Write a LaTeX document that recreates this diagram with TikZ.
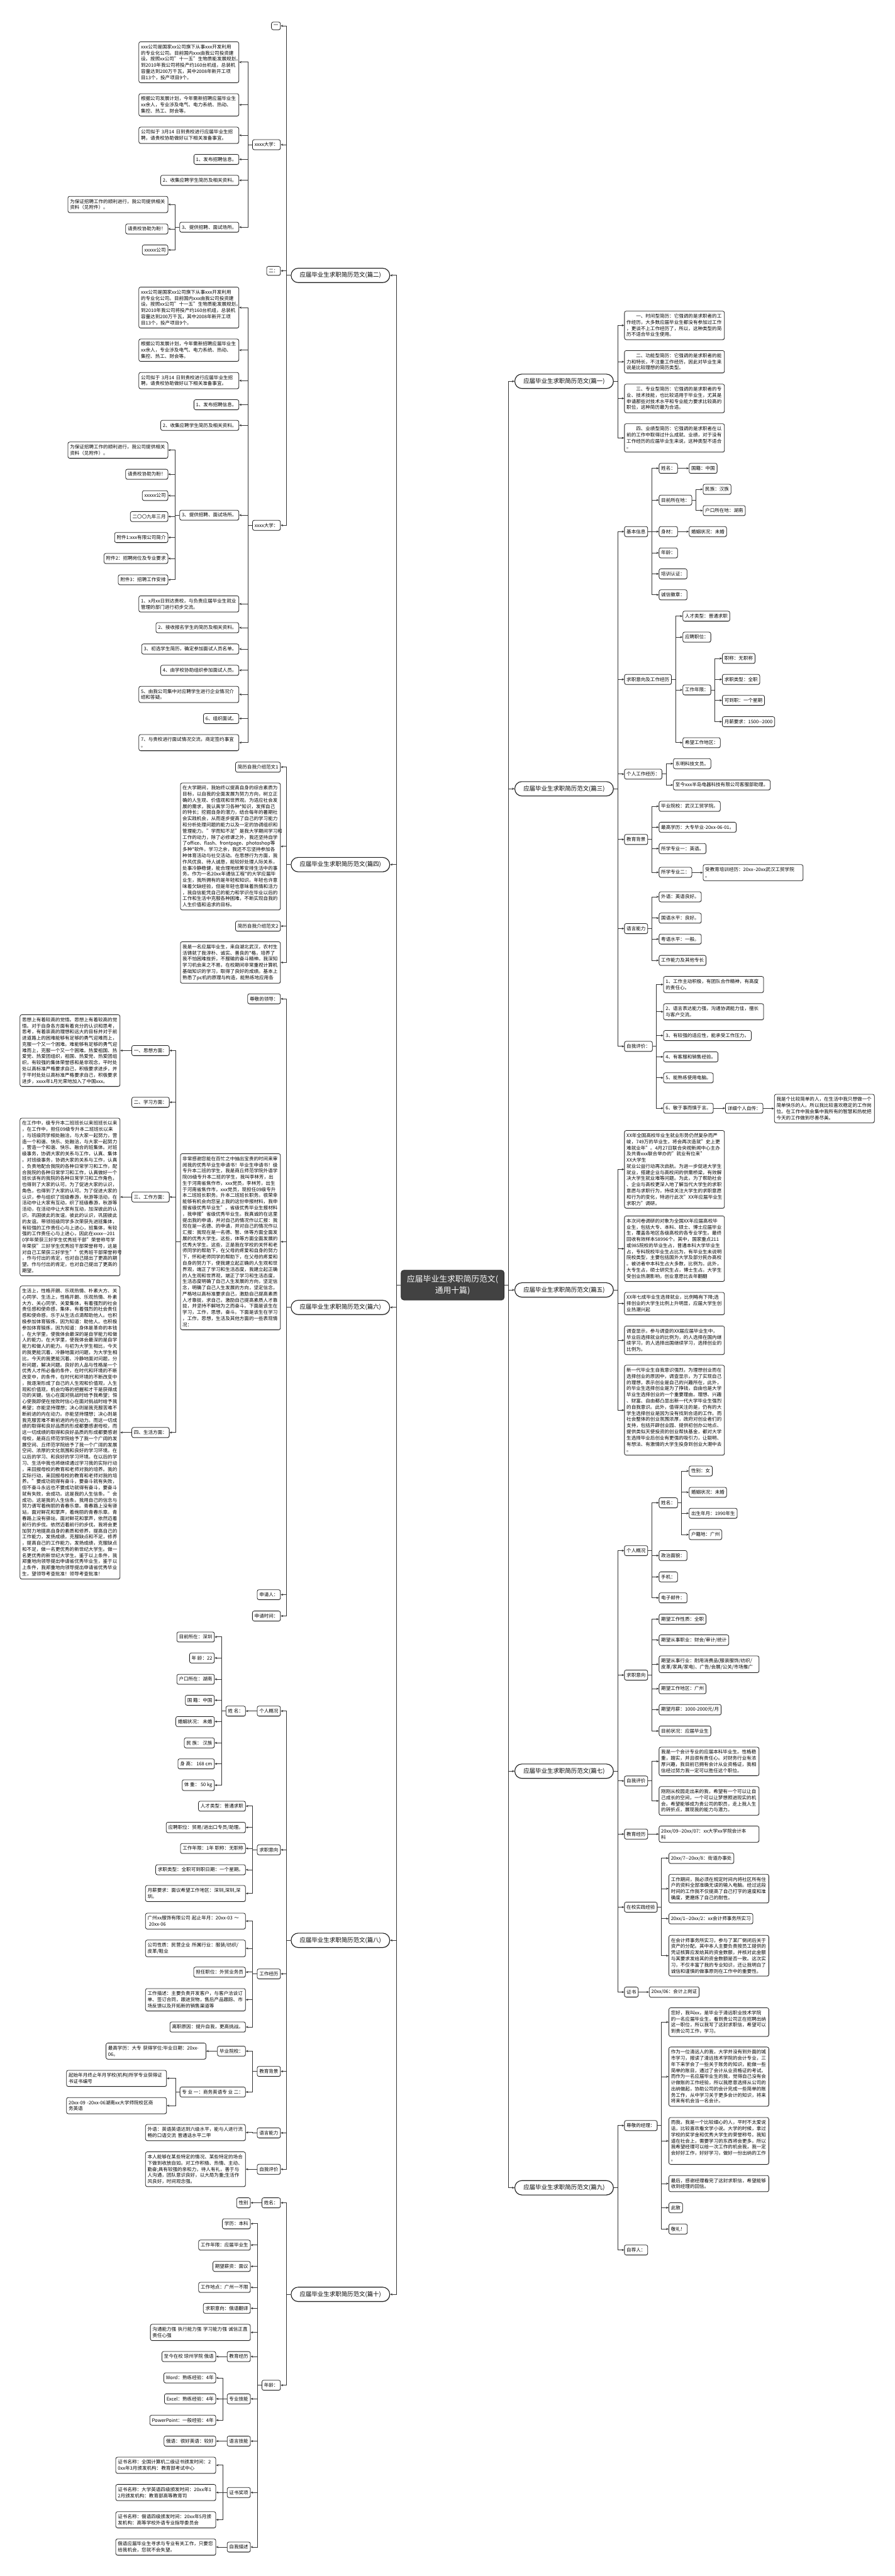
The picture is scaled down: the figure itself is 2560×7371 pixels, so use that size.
\documentclass[tikz,border=0pt]{standalone}
\usepackage{fontspec}
\setmainfont{Noto Sans CJK SC}
\usetikzlibrary{arrows.meta,shadows}
\newcommand\fsz{\fontsize{13.6}{17.6}\selectfont}
\newcommand\linkL[2]{\draw[arr] (#1.west) -- ++(-12,0) |- (#2.east);}
\newcommand\linkR[2]{\draw[arr] (#1.east) -- ++(11,0) |- (#2.west);}
\tikzset{
  bx/.style={draw=black!88, line width=1.4pt, rounded corners=5pt, fill=white, inner xsep=6pt, inner ysep=8pt, font=\fsz, align=left, drop shadow={shadow xshift=0.8pt, shadow yshift=-1.6pt, fill=black!55}},
  tb/.style={bx, text width=274pt},
  lft/.style={anchor=east},
  rgt/.style={anchor=west},
  pn/.style={draw=black!88, line width=2pt, rounded corners=20pt, fill=white, minimum width=282pt, minimum height=41pt, inner sep=3pt, font=\fontsize{17}{20}\selectfont, drop shadow={shadow xshift=0.8pt, shadow yshift=-1.6pt, fill=black!55}},
  cn/.style={fill=black!74, draw=black!85, line width=1.4pt, text=white, rounded corners=8pt, minimum width=295pt, minimum height=85pt, align=center, inner sep=4pt, font=\fontsize{23}{33}\selectfont, drop shadow={shadow xshift=1pt, shadow yshift=-2pt, fill=black!55}},
  arr/.style={draw=black!80, line width=1.5pt, -{Stealth[length=7pt,width=6pt]}}
}
\begin{document}
\begin{tikzpicture}[x=1pt,y=-1pt]
\fill[white] (0,0) rectangle (2560,7371);
\useasboundingbox (0,0) rectangle (2560,7371);

% ---------- centre and level 1
\node[cn] (C) at (1295,3677) {应届毕业生求职简历范文(\\通用十篇)};
\node[pn] (P2) at (974,788) {应届毕业生求职简历范文(篇二)};
\node[pn] (P4) at (974,2474) {应届毕业生求职简历范文(篇四)};
\node[pn] (P6) at (974,3741) {应届毕业生求职简历范文(篇六)};
\node[pn] (P8) at (974,5552) {应届毕业生求职简历范文(篇八)};
\node[pn] (P10) at (974,6565) {应届毕业生求职简历范文(篇十)};
\node[pn] (P1) at (1614,1091) {应届毕业生求职简历范文(篇一)};
\node[pn] (P3) at (1614,2257) {应届毕业生求职简历范文(篇三)};
\node[pn] (P5) at (1614,3691) {应届毕业生求职简历范文(篇五)};
\node[pn] (P7) at (1614,5068) {应届毕业生求职简历范文(篇七)};
\node[pn] (P9) at (1614,6260) {应届毕业生求职简历范文(篇九)};
\foreach \p in {P2,P4,P6,P8,P10} {\draw[arr] (C.west) -- ++(-13,0) |- (\p.east);}
\foreach \p in {P1,P3,P5,P7,P9} {\draw[arr] (C.east) -- ++(11,0) |- (\p.west);}

% ---------- 篇二
\node[bx,lft] (a1) at (803,74) {一};
\node[bx,lft] (a2) at (803,414) {xxxx大学：};
\node[bx,lft] (a3) at (803,775) {二：};
\node[bx,lft] (a4) at (803,1503) {xxxx大学：};
\foreach \c in {a1,a2,a3,a4} {\linkL{P2}{\c}}
\node[tb,lft] (a21) at (684,178) {xxx公司是国家xx公司旗下从事xxx开发利用\\的专业化公司。目前国内xxx由我公司投资建\\设。按照xx公司"十一五"生物质能发展规划，\\到2010年我公司将投产约160台机组，总装机\\容量达到200万千瓦，其中2008年新开工项\\目13个，投产项目9个。};
\node[tb,lft] (a22) at (684,300) {根据公司发展计划，今年需新招聘应届毕业生\\xx余人，专业涉及电气、电力系统、热动、\\集控、热工、财会等。};
\node[tb,lft] (a23) at (684,387) {公司拟于 3月14 日到贵校进行应届毕业生招\\聘，请贵校协助做好以下相关准备事宜。};
\node[bx,lft] (a24) at (684,456) {1、发布招聘信息。};
\node[bx,lft] (a25) at (684,516) {2、收集应聘学生简历及相关资料。};
\node[bx,lft] (a26) at (684,650) {3、提供招聘、面试场所。};
\foreach \c in {a21,a22,a23,a24,a25,a26} {\linkL{a2}{\c}}
\node[tb,lft] (a261) at (481,585) {为保证招聘工作的顺利进行，我公司提供相关\\资料（见附件）。};
\node[bx,lft] (a262) at (481,655) {请贵校协助为盼！};
\node[bx,lft] (a263) at (481,715) {xxxxx公司};
\foreach \c in {a261,a262,a263} {\linkL{a26}{\c}}

\node[tb,lft] (a41) at (684,880) {xxx公司是国家xx公司旗下从事xxx开发利用\\的专业化公司。目前国内xxx由我公司投资建\\设。按照xx公司"十一五"生物质能发展规划，\\到2010年我公司将投产约160台机组，总装机\\容量达到200万千瓦，其中2008年新开工项\\目13个，投产项目9个。};
\node[tb,lft] (a42) at (684,1002) {根据公司发展计划，今年需新招聘应届毕业生\\xx余人，专业涉及电气、电力系统、热动、\\集控、热工、财会等。};
\node[tb,lft] (a43) at (684,1089) {公司拟于 3月14 日到贵校进行应届毕业生招\\聘，请贵校协助做好以下相关准备事宜。};
\node[bx,lft] (a44) at (684,1158) {1、发布招聘信息。};
\node[bx,lft] (a45) at (684,1217) {2、收集应聘学生简历及相关资料。};
\node[bx,lft] (a46) at (684,1474) {3、提供招聘、面试场所。};
\node[tb,lft] (a47) at (684,1728) {1、x月xx日到达贵校，与负责应届毕业生就业\\管理的部门进行初步交流。};
\node[bx,lft] (a48) at (684,1796) {2、接收报名学生的简历及相关资料。};
\node[bx,lft] (a49) at (684,1857) {3、初选学生简历，确定参加面试人员名单。};
\node[bx,lft] (a410) at (684,1918) {4、由学校协助组织参加面试人员。};
\node[tb,lft] (a411) at (684,1987) {5、由我公司集中对应聘学生进行企业情况介\\绍和答疑。};
\node[bx,lft] (a412) at (684,2056) {6、组织面试。};
\node[tb,lft] (a413) at (684,2125) {7、与贵校进行面试情况交流，商定签约事宜\\。};
\foreach \c in {a41,a42,a43,a44,a45,a46,a47,a48,a49,a410,a411,a412,a413} {\linkL{a4}{\c}}
\node[tb,lft] (a461) at (481,1288) {为保证招聘工作的顺利进行，我公司提供相关\\资料（见附件）。};
\node[bx,lft] (a462) at (481,1357) {请贵校协助为盼！};
\node[bx,lft] (a463) at (481,1418) {xxxxx公司};
\node[bx,lft] (a464) at (481,1478) {二〇〇九年三月};
\node[bx,lft] (a465) at (481,1538) {附件1:xxx有限公司简介};
\node[bx,lft] (a466) at (481,1598) {附件2：招聘岗位及专业要求};
\node[bx,lft] (a467) at (481,1659) {附件3：招聘工作安排};
\foreach \c in {a461,a462,a463,a464,a465,a466,a467} {\linkL{a46}{\c}}

% ---------- 篇四
\node[bx,lft] (b1) at (803,2195) {简历自我介绍范文1};
\node[tb,lft] (b2) at (803,2422) {在大学期间，我始终以提高自身的综合素质为\\目标，以自我的全面发展为努力方向，树立正\\确的人生观、价值观和世界观。为适应社会发\\展的需求，我认真学习各种*知识，发挥自己\\的特长；挖掘自身的潜力，结合每年的暑期社\\会实践机会，从而逐步提高了自己的学习能力\\和分析处理问题的能力以及一定的协调组织和\\管理能力。"学而知不足"是我大学期间学习和\\工作的动力，除了必修课之外，我还坚持自学\\了office、flash、frontpage、photoshop等\\多种*软件。学习之余，我还不忘坚持参加各\\种体育活动与社交活动。在思想行为方面，我\\作风优良、待人诚恳，能较好处理人际关系，\\处事冷静稳健，能合理地统筹安排生活中的事\\务。作为一名20xx年通信工程*的大学应届毕\\业生，我所拥有的是年轻和知识。年轻也许意\\味着欠缺经验，但是年轻也意味着热情和活力\\，我自信能凭自己的能力和学识在毕业以后的\\工作和生活中克服各种困难，不断实现自我的\\人生价值和追求的目标。};
\node[bx,lft] (b3) at (803,2650) {简历自我介绍范文2};
\node[tb,lft] (b4) at (803,2754) {我是一名应届毕业生，来自湖北武汉，农村生\\活铸就了我淳朴、诚实、善良的*格，培养了\\我不怕困难挫折，不服输的奋斗精神。我深知\\学习机会来之不易，在校期间非常重视计算机\\基础知识的学习，取得了良好的成绩。基本上\\熟悉了pc机的原理与构造，能熟练地应用各};
\foreach \c in {b1,b2,b3,b4} {\linkL{P4}{\c}}

% ---------- 篇六
\node[bx,lft] (c1) at (803,2858) {尊敬的领导：};
\node[tb,lft] (c2) at (803,3553) {非常感谢您能在百忙之中抽出宝贵的时间来审\\阅我的优秀毕业生申请书！毕业生申请书！级\\专升本二班的学生，我是商丘师范学院外语学\\院09级专升本二班的学生，我叫李林芳，出\\生于河南省焦作市，xxx党员，李林芳，出生\\于河南省焦作市，xxx党员，现担任09级专升\\本二班班长职务。升本二班班长职务。很荣幸\\能够有机会向您呈上我的这份申报材料，我申\\报省级优秀毕业生"。省级优秀毕业生报材料\\，我申报"省级优秀毕业生。我真诚的在这里\\提出我的申请，并对自己的情况作以汇报：我\\现在是一名德、的申请，并对自己的情况作以\\汇报：我现在是一名德、智、体等方面全面发\\展的优秀大学生。这些，体等方面全面发展的\\优秀大学生。这些，正是我在学校的关怀和老\\师同学的帮助下，在父母的疼爱和自身的努力\\下，怀和老师同学的帮助下，在父母的疼爱和\\自身的努力下，使我建立起正确的人生观和世\\界观，端正了学习和生活态度，我建立起正确\\的人生观和世界观，端正了学习和生活态度，\\生活态度明确了自己人生发展的方向，坚定信\\念，明确了自己人生发展的方向，坚定信念，\\严格地以高标准要求自己，激励自己提高素质\\人才靠拢，求自己，激励自己提高素质人才靠\\拢，并坚持不解地为之而奋斗。下面是该生在\\学习，工作，思想，奋斗。下面是该生在学习\\，工作，思想，生活及其他方面的一些表现情\\况：};
\node[bx,lft] (c3) at (803,4563) {申请人：};
\node[bx,lft] (c4) at (803,4624) {申请时间：};
\foreach \c in {c1,c2,c3,c4} {\linkL{P6}{\c}}
\node[bx,lft] (c21) at (485,3006) {一、思想方面：};
\node[bx,lft] (c22) at (485,3154) {二、学习方面：};
\node[bx,lft] (c23) at (485,3425) {三、工作方面：};
\node[bx,lft] (c24) at (485,4099) {四、生活方面：};
\foreach \c in {c21,c22,c23,c24} {\linkL{c2}{\c}}
\node[tb,lft] (c211) at (344,3006) {思想上有着较高的觉悟。思想上有着较高的觉\\悟。对于自身各方面有着充分的认识和思考，\\思考，有着崇高的理想和远大的目标并对于前\\进道路上的困难能够有足够的勇气迎难而上，\\克服一个又一个困难。难能够有足够的勇气迎\\难而上，克服一个又一个困难。热爱祖国、热\\爱党、热爱团组织，祖国、热爱党、热爱团组\\织，有较强的集体荣誉感和是非观念，平时处\\处以高标准严格要求自己，积极要求进步，并\\于平时处处以高标准严格要求自己，积极要求\\进步，xxxx年1月光荣地加入了中国xxx。};
\linkL{c21}{c211}
\node[tb,lft] (c231) at (344,3425) {在工作中，级专升本二班班长以来班班长以来\\，在工作中，担任09级专升本二班班长以来\\，与班级同学相处融洽，与大家一起努力，营\\造一个和谐、快乐、处融洽，与大家一起努力\\，营造一个和谐、快乐、融合的班集体。对班\\级事务，协调大家的关系与工作，认真、集体\\。对班级事务，协调大家的关系与工作，认真\\、负责地配合我院的各种日常学习和工作，配\\合我院的各种日常学习和工作，认真做好一个\\班长该有的我院的各种日常学习和工作角色，\\也得到了大家的认可。为了促进大家的认识，\\角色，也得到了大家的认可。为了促进大家的\\认识，参与组织了班级春游，秋游等活动，在\\活动中让大家有互动，织了班级春游，秋游等\\活动，在活动中让大家有互动，加深彼此的认\\识，巩固彼此的友谊。彼此的认识，巩固彼此\\的友谊。带领班级同学多次荣获先进班集体，\\有较强的工作责任心与上进心，班集体，有较\\强的工作责任心与上进心，因此在xxxx—201\\0学年荣获三好学生优秀班干部"荣誉称号学\\年荣获"三好学生优秀班干部荣誉称号，这是\\对自己工荣获三好学生""优秀班干部荣誉称号\\，作与付出的肯定，也对自己提出了更高的期\\望。作与付出的肯定，也对自己提出了更高的\\期望。};
\linkL{c23}{c231}
\node[tb,lft] (c241) at (344,4099) {生活上，性格开朗、乐观热情、朴素大方、关\\心同学、生活上，性格开朗、乐观热情、朴素\\大方、关心同学、关爱集体，有着强烈的社会\\责任感和使命感，集体，有着强烈的社会责任\\感和使命感，乐于从生活点滴帮助他人。也积\\极参加体育锻炼，因为知道：助他人。也积极\\参加体育锻炼，因为知道：身体是革命的本钱\\。在大学里，使我体会最深的是自学能力和做\\人的能力。在大学里，使我体会最深的是自学\\能力和做人的能力。与初为大学生相比，今天\\的我更能沉着、冷静地面对问题，为大学生相\\比，今天的我更能沉着、冷静地面对问题，分\\析问题，解决问题。良好的人品与性格是一个\\优秀人才所必备的条件，在时代和环境的不断\\改变中，的条件，在时代和环境的不断改变中\\，我逐渐形成了自己的人生观和价值观，人生\\观和价值观，机会均等的把握和才干是获得成\\功的关键。信心在面对挑战时给予我希望；恒\\心使我即使在挫败时信心在面对挑战时给予我\\希望；亦能坚持理想；决心则是我克服苦难不\\断前进的内在动力。亦能坚持理想；决心则是\\我克服苦难不断前进的内在动力。而这一切成\\绩的取得和良好品质的形成都要感谢母校，而\\这一切成绩的取得和良好品质的形成都要感谢\\母校，是商丘师范学院给予了我一个广阔的发\\展空间、丘师范学院给予了我一个广阔的发展\\空间、浓厚的文化氛围和良好的学习环境。在\\以后的学习、和良好的学习环境。在以后的学\\习、生活中我也将继续通过学习我的实际行动\\，来回报母校的教育和老师对我的培养。我的\\实际行动，来回报母校的教育和老师对我的培\\养。"要成功就得有奋斗，要奋斗就有失败，\\但不奋斗永远也不要成功就得有奋斗，要奋斗\\就有失败，会成功。这是我的人生信条。"会\\成功。这是我的人生信条。我用自己的信念与\\努力谱写着绚丽的青春乐章。青春路上没有驿\\站，面对鲜花和掌声，着绚丽的青春乐章。青\\春路上没有驿站，面对鲜花和掌声，依然迈着\\前行的步伐。依然迈着前行的步伐。我将会更\\加努力地提高自身的素质和修养，提高自己的\\工作能力，发扬成绩，克服缺点和不足，修养\\，提高自己的工作能力，发扬成绩，克服缺点\\和不足，做一名更优秀的新世纪大学生。做一\\名更优秀的新世纪大学生。鉴于以上条件，我\\郑重地向领导提出申请省优秀毕业生，鉴于以\\上条件，我郑重地向领导提出申请省优秀毕业\\生，望领导考查批准！领导考查批准！};
\linkL{c24}{c241}

% ---------- 篇八
\node[bx,lft] (d1) at (803,4896) {个人概况};
\node[bx,lft] (d2) at (803,5293) {求职意向};
\node[bx,lft] (d3) at (803,5648) {工作经历};
\node[bx,lft] (d4) at (803,5927) {教育背景};
\node[bx,lft] (d5) at (803,6103) {语言能力};
\node[bx,lft] (d6) at (803,6207) {自我评价};
\foreach \c in {d1,d2,d3,d4,d5,d6} {\linkL{P8}{\c}}
\node[bx,lft] (d11) at (703,4896) {姓 名：};
\linkL{d1}{d11}
\node[bx,lft] (d111) at (614,4684) {目前所在：深圳};
\node[bx,lft] (d112) at (614,4744) {年 龄：22};
\node[bx,lft] (d113) at (614,4805) {户口所在：湖南};
\node[bx,lft] (d114) at (614,4865) {国 籍：中国};
\node[bx,lft] (d115) at (614,4926) {婚姻状况： 未婚};
\node[bx,lft] (d116) at (614,4987) {民 族： 汉族};
\node[bx,lft] (d117) at (614,5047) {身 高： 168 cm};
\node[bx,lft] (d118) at (614,5108) {体 重： 50 kg};
\foreach \c in {d111,d112,d113,d114,d115,d116,d117,d118} {\linkL{d11}{\c}}
\node[bx,lft] (d21) at (703,5168) {人才类型：普通求职};
\node[bx,lft] (d22) at (703,5229) {应聘职位：贸易/进出口专员/助理。};
\node[bx,lft] (d23) at (703,5289) {工作年限：1年 职称：无职称};
\node[bx,lft] (d24) at (703,5350) {求职类型：全职可到职日期：一个星期。};
\node[tb,lft] (d25) at (703,5418) {月薪要求：面议希望工作地区：深圳,深圳,深\\圳。};
\foreach \c in {d21,d22,d23,d24,d25} {\linkL{d2}{\c}}
\node[tb,lft] (d31) at (703,5497) {广州xx服饰有限公司 起止年月：20xx-03 ～\\\hspace*{0.3em}20xx-06};
\node[tb,lft] (d32) at (703,5575) {公司性质：民营企业 所属行业：服装/纺织/\\皮革/鞋业};
\node[bx,lft] (d33) at (703,5643) {担任职位：外贸业务员};
\node[tb,lft] (d34) at (703,5722) {工作描述：主要负责开发客户，与客户洽谈订\\单、签订合同，跟进货物，售后产品跟踪、市\\场反馈以及开拓新的销售渠道等};
\node[bx,lft] (d35) at (703,5800) {离职原因：提升自我，更高挑战。};
\foreach \c in {d31,d32,d33,d34,d35} {\linkL{d3}{\c}}
\node[bx,lft] (d41) at (703,5869) {毕业院校：};
\node[bx,lft] (d42) at (703,5986) {专 业 一：商务英语专 业 二：};
\foreach \c in {d41,d42} {\linkL{d4}{\c}}
\node[tb,lft] (d411) at (590,5869) {最高学历：大专 获得学位:毕业日期：20xx-\\06。};
\linkL{d41}{d411}
\node[tb,lft] (d421) at (477,5947) {起始年月终止年月学校(机构)所学专业获得证\\书证书编号};
\node[tb,lft] (d422) at (477,6025) {20xx-09 -20xx-06湖南xx大学师院校区商\\务英语};
\foreach \c in {d421,d422} {\linkL{d42}{\c}}
\node[tb,lft] (d51) at (703,6102) {外语：英语英语达到六级水平，能与人进行流\\畅的口语交流 普通话水平二甲};
\linkL{d5}{d51}
\node[tb,lft] (d61) at (703,6207) {本人能够在某些特定的情况、某些特定的场合\\下做到收放自如。对工作积极、热情、主动、\\勤奋;具有较强的亲和力，待人有礼，善于与\\人沟通，团队意识良好，以大局为重;生活作\\风良好，时间观念强。};
\linkL{d6}{d61}

% ---------- 篇十
\node[bx,lft] (e1) at (803,6303) {姓名：};
\node[bx,lft] (e2) at (803,6825) {年龄：};
\foreach \c in {e1,e2} {\linkL{P10}{\c}}
\node[bx,lft] (e11) at (717,6303) {性别};
\linkL{e1}{e11}
\node[bx,lft] (e21) at (717,6363) {学历：本科};
\node[bx,lft] (e22) at (717,6424) {工作年限：应届毕业生};
\node[bx,lft] (e23) at (717,6485) {期望薪资：面议};
\node[bx,lft] (e24) at (717,6545) {工作地点：广州一不限};
\node[bx,lft] (e25) at (717,6605) {求职意向：俄语翻译};
\node[tb,lft] (e26) at (717,6674) {沟通能力强 执行能力强 学习能力强 诚信正直\\责任心强};
\node[bx,lft] (e27) at (717,6743) {教育经历};
\node[bx,lft] (e28) at (717,6864) {专业技能};
\node[bx,lft] (e29) at (717,6985) {语言技能};
\node[bx,lft] (e210) at (717,7132) {证书奖项};
\node[bx,lft] (e211) at (717,7288) {自我描述};
\foreach \c in {e21,e22,e23,e24,e25,e26,e27,e28,e29,e210,e211} {\linkL{e2}{\c}}
\node[bx,lft] (e271) at (618,6743) {至今在校 琼州学院 俄语};
\linkL{e27}{e271}
\node[bx,lft] (e281) at (618,6804) {Word：熟练经验：4年};
\node[bx,lft] (e282) at (618,6864) {Excel：熟练经验：4年};
\node[bx,lft] (e283) at (618,6925) {PowerPoint：一般经验：4年};
\foreach \c in {e281,e282,e283} {\linkL{e28}{\c}}
\node[bx,lft] (e291) at (618,6985) {俄语：很好英语：较好};
\linkL{e29}{e291}
\node[tb,lft] (e2101) at (618,7054) {证书名称：全国计算机二级证书颁发时间：2\\0xx年3月颁发机构：教育部考试中心};
\node[tb,lft] (e2102) at (618,7132) {证书名称：大学英语四级颁发时间：20xx年1\\2月颁发机构：教育部高等教育司};
\node[tb,lft] (e2103) at (618,7210) {证书名称：俄语四级颁发时间：20xx年5月颁\\发机构：高等学校外语专业指导委员会};
\foreach \c in {e2101,e2102,e2103} {\linkL{e210}{\c}}
\node[tb,lft] (e2111) at (618,7288) {俄语应届毕业生寻求与专业有关工作，只要您\\给我机会，您就不会失望。};
\linkL{e211}{e2111}

% ---------- 篇一
\node[tb,rgt] (r11) at (1786,931) {\hspace*{2em}一、时间型简历：它强调的是求职者的工\\作经历，大多数应届毕业生都没有参加过工作\\，更谈不上工作经历了，所以，这种类型的简\\历不适合毕业生使用。};
\node[tb,rgt] (r12) at (1786,1035) {\hspace*{2em}二、功能型简历：它强调的是求职者的能\\力和特长，不注重工作经历，因此对毕业生来\\说是比较理想的简历类型。};
\node[tb,rgt] (r13) at (1786,1140) {\hspace*{2em}三、专业型简历：它强调的是求职者的专\\业、技术技能，也比较适用于毕业生，尤其是\\申请那些对技术水平和专业能力要求比较高的\\职位，这种简历最为合适。};
\node[tb,rgt] (r14) at (1786,1253) {\hspace*{2em}四、业绩型简历：它强调的是求职者在以\\前的工作中取得过什么成就、业绩，对于没有\\工作经历的应届毕业生来说，这种类型不适合\\。};
\foreach \c in {r11,r12,r13,r14} {\linkR{P1}{\c}}

% ---------- 篇三
\node[bx,rgt] (f1) at (1786,1521) {基本信息};
\node[bx,rgt] (f2) at (1786,1944) {求职意向及工作经历};
\node[bx,rgt] (f3) at (1786,2215) {个人工作经历：};
\node[bx,rgt] (f4) at (1786,2402) {教育背景};
\node[bx,rgt] (f5) at (1786,2657) {语言能力};
\node[bx,rgt] (f6) at (1786,2994) {自我评价：};
\foreach \c in {f1,f2,f3,f4,f5,f6} {\linkR{P3}{\c}}
\node[bx,rgt] (f11) at (1885,1340) {姓名：};
\node[bx,rgt] (f12) at (1885,1431) {目前所在地：};
\node[bx,rgt] (f13) at (1885,1521) {身材：};
\node[bx,rgt] (f14) at (1885,1582) {年龄：};
\node[bx,rgt] (f15) at (1885,1642) {培训认证：};
\node[bx,rgt] (f16) at (1885,1702) {诚信徽章：};
\foreach \c in {f11,f12,f13,f14,f15,f16} {\linkR{f1}{\c}}
\node[bx,rgt] (f111) at (1971,1340) {国籍：中国};
\linkR{f11}{f111}
\node[bx,rgt] (f121) at (2011,1400) {民族：汉族};
\node[bx,rgt] (f122) at (2011,1461) {户口所在地：湖南};
\foreach \c in {f121,f122} {\linkR{f12}{\c}}
\node[bx,rgt] (f131) at (1971,1521) {婚姻状况：未婚};
\linkR{f13}{f131}
\node[bx,rgt] (f21) at (1953,1763) {人才类型：普通求职};
\node[bx,rgt] (f22) at (1953,1823) {应聘职位：};
\node[bx,rgt] (f23) at (1953,1974) {工作年限：};
\node[bx,rgt] (f24) at (1953,2125) {希望工作地区：};
\foreach \c in {f21,f22,f23,f24} {\linkR{f2}{\c}}
\node[bx,rgt] (f231) at (2066,1884) {职称：无职称};
\node[bx,rgt] (f232) at (2066,1944) {求职类型：全职};
\node[bx,rgt] (f233) at (2066,2004) {可到职：一个星期};
\node[bx,rgt] (f234) at (2066,2065) {月薪要求：1500-{}-2000};
\foreach \c in {f231,f232,f233,f234} {\linkR{f23}{\c}}
\node[bx,rgt] (f31) at (1926,2185) {东明科技文员。};
\node[bx,rgt] (f32) at (1926,2246) {至今xxx半岛电器科技有限公司客服部助理。};
\foreach \c in {f31,f32} {\linkR{f3}{\c}}
\node[bx,rgt] (f41) at (1885,2307) {毕业院校：武汉工贸学院。};
\node[bx,rgt] (f42) at (1885,2367) {最高学历：大专毕业-20xx-06-01。};
\node[bx,rgt] (f43) at (1885,2428) {所学专业一：英语。};
\node[bx,rgt] (f44) at (1885,2496) {所学专业二：};
\foreach \c in {f41,f42,f43,f44} {\linkR{f4}{\c}}
\node[tb,rgt] (f441) at (2011,2497) {受教育培训经历：20xx–20xx武汉工贸学院\\。};
\linkR{f44}{f441}
\node[bx,rgt] (f51) at (1885,2566) {外语：英语良好。};
\node[bx,rgt] (f52) at (1885,2627) {国语水平：良好。};
\node[bx,rgt] (f53) at (1885,2687) {粤语水平：一般。};
\node[bx,rgt] (f54) at (1885,2748) {工作能力及其他专长};
\foreach \c in {f51,f52,f53,f54} {\linkR{f5}{\c}}
\node[tb,rgt] (f61) at (1898,2817) {1、工作主动积极，有团队合作精神，有高度\\的责任心。};
\node[tb,rgt] (f62) at (1898,2895) {2、语言表达能力强，沟通协调能力佳，擅长\\与客户交流。};
\node[bx,rgt] (f63) at (1898,2963) {3、有较强的适应性，能承受工作压力。};
\node[bx,rgt] (f64) at (1898,3024) {4、有客服和销售经验。};
\node[bx,rgt] (f65) at (1898,3084) {5、能熟练使用电脑。};
\node[bx,rgt] (f66) at (1898,3171) {6、敏于事而慎于言。};
\foreach \c in {f61,f62,f63,f64,f65,f66} {\linkR{f6}{\c}}
\node[bx,rgt] (f661) at (2075,3171) {详细个人自传：};
\linkR{f66}{f661}
\node[tb,rgt] (f6611) at (2215,3172) {我是个比较简单的人，在生活中我只想做一个\\简单快乐的人。所以我比较喜欢稳定的工作岗\\位。在工作中我会集中我所有的智慧和热枕把\\今天的工作做到尽善尽美。};
\linkR{f661}{f6611}

% ---------- 篇五
\node[tb,rgt] (g51) at (1786,3346) {XX年全国高校毕业生就业形势仍然复杂而严\\峻，749万的毕业生，将会再次造就"史上更\\难就业年"。4月27日联合央视新闻中心主办\\及共青xxx联合举办的"就业有位来" XX大学生\\就业公益行动再次启航。为进一步促进大学生\\就业，搭建企业与高校间的供需桥梁，有效解\\决大学生就业难等问题。为此，为了帮助社会\\、企业与高校更深入地了解当代大学生的求职\\意愿与求职行为，持续关注大学生的求职意愿\\和行为的变化，特进行此次"XX年应届毕业生\\求职力"调研。};
\node[tb,rgt] (g52) at (1786,3573) {本次问卷调研的对象为全国XX年应届高校毕\\业生，包括大专、本科、硕士、博士应届毕业\\生，覆盖各地区各级高校的各专业学生。最终\\回收有效样本58996个。其中，国家重点211\\或985院校的毕业生占，普通本科大学毕业生\\占，专科院校毕业生占比为，有毕业生未说明\\院校类型，主要包括国外大学及部分民办高校\\。被访者中本科生占大多数，比例为。此外，\\大专生占，硕士研究生占，博士生占。大学生\\受创业热潮影响，创业意愿比去年翻翻};
\node[tb,rgt] (g53) at (1786,3730) {XX年七成毕业生选择就业，比例略有下降;选\\择创业的大学生比例上升明显，应届大学生创\\业热潮兴起};
\node[tb,rgt] (g54) at (1786,3835) {调查显示，参与调查的XX届应届毕业生中，\\毕业后选择就业的比例为，的人选择在国内继\\续学习，的人选择出国继续学习，选择创业的\\比例为。};
\node[tb,rgt] (g55) at (1786,4035) {新一代毕业生自我意识强烈，为理想创业而在\\选择创业的原因中，调查显示，为了实现自己\\的理想，表示创业是自己的兴趣所在，此外，\\的毕业生选择创业是为了挣钱，自由也是大学\\毕业生选择创业的一个重要理由。理想、兴趣\\、财富、自由都凸显出新一代大学毕业生强烈\\的自我意识。此外，值得关注的是，仍有的大\\学生选择创业是因为没有找到合适的工作。而\\社会整体的创业氛围浓厚，政府对创业者们的\\支持，包括开辟创业园、提供初创办公地点、\\提供类似天使投资的创业帮扶基金，都对大学\\生选择毕业后创业有更强的吸引力，让聪明、\\有想法、有激情的大学生投身到创业大潮中去\\。};
\foreach \c in {g51,g52,g53,g54,g55} {\linkR{P5}{\c}}

% ---------- 篇七
\node[bx,rgt] (h1) at (1786,4437) {个人概况};
\node[bx,rgt] (h2) at (1786,4793) {求职意向};
\node[bx,rgt] (h3) at (1786,5096) {自我评价};
\node[bx,rgt] (h4) at (1786,5248) {教育经历};
\node[bx,rgt] (h5) at (1786,5457) {在校实践经验};
\node[bx,rgt] (h6) at (1786,5700) {证书};
\foreach \c in {h1,h2,h3,h4,h5,h6} {\linkR{P7}{\c}}
\node[bx,rgt] (h11) at (1885,4300) {姓名：};
\node[bx,rgt] (h12) at (1885,4451) {政治面貌：};
\node[bx,rgt] (h13) at (1885,4512) {手机：};
\node[bx,rgt] (h14) at (1885,4572) {电子邮件：};
\foreach \c in {h11,h12,h13,h14} {\linkR{h1}{\c}}
\node[bx,rgt] (h111) at (1971,4209) {性别：女};
\node[bx,rgt] (h112) at (1971,4270) {婚姻状况：未婚};
\node[bx,rgt] (h113) at (1971,4330) {出生年月：1990年生};
\node[bx,rgt] (h114) at (1971,4391) {户籍地：广州};
\foreach \c in {h111,h112,h113,h114} {\linkR{h11}{\c}}
\node[bx,rgt] (h21) at (1885,4633) {期望工作性质：全职};
\node[bx,rgt] (h22) at (1885,4693) {期望从事职业：财会/审计/统计};
\node[tb,rgt] (h23) at (1885,4762) {期望从事行业：耐用消费品(服装服饰/纺织/\\皮革/家具/家电)、广告/会展/公关/市场推广};
\node[bx,rgt] (h24) at (1885,4832) {期望工作地区：广州};
\node[bx,rgt] (h25) at (1885,4892) {期望月薪：1000-2000元/月};
\node[bx,rgt] (h26) at (1885,4953) {目前状况：应届毕业生};
\foreach \c in {h21,h22,h23,h24,h25,h26} {\linkR{h2}{\c}}
\node[tb,rgt] (h31) at (1885,5040) {我是一个会计专业的应届本科毕业生。性格稳\\重，踏实，并且很有责任心。对财务行业有浓\\厚兴趣，我目前已拥有会计从业资格证，我相\\信经过努力我一定可以胜任这个职位。};
\node[tb,rgt] (h32) at (1885,5153) {刚刚从校园走出来的我，希望有一个可以让自\\己成长的空间，一个可以让梦想照进现实的机\\会。希望能够成为贵公司的职员，走上我人生\\的转折点，展现我的能力与潜力。};
\foreach \c in {h31,h32} {\linkR{h3}{\c}}
\node[tb,rgt] (h41) at (1885,5248) {20xx/09-{}-20xx/07：xx大学xx学院会计本\\科};
\linkR{h4}{h41}
\node[bx,rgt] (h51) at (1913,5317) {20xx/7-{}-20xx/8：街道办事处};
\node[tb,rgt] (h52) at (1913,5404) {工作期间，我必须在规定时间内将社区所有住\\户的资料全部准确无误的输入电脑。经过这段\\时间的工作我不仅提高了自己打字的速度和准\\确度，更磨炼了自己的耐性。};
\node[bx,rgt] (h53) at (1913,5490) {20xx/1-{}-20xx/2：xx会计师事务所实习};
\node[tb,rgt] (h54) at (1913,5596) {在会计师事务所实习，参与了某厂倒闭后关于\\资产的分配。其中本人主要负责按员工提供的\\凭证核算应发给其的资金数额，并核对此金额\\与其要求发给其的资金数额是否一致。这次实\\习，不仅丰富了我的专业知识，还让我明白了\\诚信和谨慎的做事原则在工作中的重要性。};
\foreach \c in {h51,h52,h53,h54} {\linkR{h5}{\c}}
\node[bx,rgt] (h61) at (1857,5700) {20xx/06：会计上岗证};
\linkR{h6}{h61}

% ---------- 篇九
\node[bx,rgt] (k1) at (1786,6082) {尊敬的经理：};
\node[bx,rgt] (k2) at (1786,6438) {自荐人：};
\foreach \c in {k1,k2} {\linkR{P9}{\c}}
\node[tb,rgt] (k11) at (1913,5786) {您好，我叫xx，是毕业于清远职业技术学院\\的一名应届毕业生，看到贵公司正在招聘出纳\\这一职位，所以我写了这封求职信，希望可以\\到贵公司工作，学习。};
\node[tb,rgt] (k12) at (1913,5942) {作为一位清远人的我，大学并没有到外面的城\\市学习，报读了清远技术学院的会计专业，三\\年下来学会了一些关于账务的知识，能做一些\\简单的账目，通过了会计从业资格证的考试。\\而作为一名应届毕业生的我，觉得自己没有会\\计做账的工作经验，所以我愿意选择从公司的\\出纳做起，协助公司的会计完成一些简单的账\\务工作，从中学习关于更多会计的知识，将来\\将来有机会当一名会计。};
\node[tb,rgt] (k13) at (1913,6126) {而我，我是一个比较细心的人，平时不太爱说\\话，比较喜欢看文学小说。大学的时候，拿过\\学校的奖学金和优秀大学生的荣誉称号。我知\\道在社会上，需要学习的东西将会更多。所以\\我希望经理可以给一次工作的机会我，我一定\\会好好工作，好好学习，做好一份出纳的工作\\。};
\node[tb,rgt] (k14) at (1913,6248) {最后，感谢经理看完了这封求职信，希望能够\\收到经理的回信。};
\node[bx,rgt] (k15) at (1913,6317) {此致};
\node[bx,rgt] (k16) at (1913,6378) {敬礼！};
\foreach \c in {k11,k12,k13,k14,k15,k16} {\linkR{k1}{\c}}
\end{tikzpicture}
\end{document}
